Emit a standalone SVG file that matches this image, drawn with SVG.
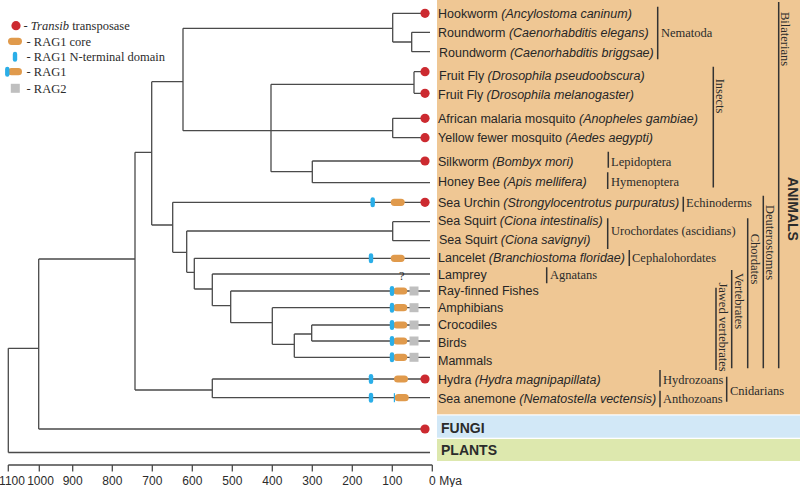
<svg xmlns="http://www.w3.org/2000/svg" width="800" height="487" viewBox="0 0 800 487">
<style>
.t{font-family:"Liberation Sans",Arial,sans-serif;font-size:12.5px;fill:#262626}
.i{font-style:italic}
.s{font-family:"Liberation Serif","Times New Roman",serif;font-size:12.5px;fill:#2b2b2b}
.b{font-family:"Liberation Sans",Arial,sans-serif;font-size:14px;font-weight:bold;fill:#2b2b2b}
.ax{font-family:"Liberation Sans Narrow","Liberation Sans",Arial,sans-serif;font-size:12px;fill:#2b2b2b;text-anchor:middle}
.ln{stroke:#4a4a4a;stroke-width:1.3;fill:none}
.bar{stroke:#333;stroke-width:1.5;fill:none}
.dot{fill:#cc2a30}
.core{fill:#e09a4c}
.nt{fill:#2aaee8}
.r2{fill:#bfbfbf}
</style>
<defs>
<circle id="dot" class="dot" r="4.6"/>
<rect id="core" class="core" x="-7" y="-3.6" width="14" height="7.2" rx="3.6"/>
<rect id="nt" class="nt" x="-2.2" y="-5" width="4.4" height="10" rx="2.2"/>
<rect id="r2" class="r2" x="-4.5" y="-4.5" width="9" height="9"/>
</defs>

<!-- background panels -->
<rect x="437" y="0" width="363" height="414.3" fill="#efc794"/>
<rect x="437" y="415.5" width="363" height="22.2" fill="#d2e8f7"/>
<rect x="437" y="439" width="363" height="22" fill="#dde8ae"/>

<!-- legend -->
<g id="legend">
<use href="#dot" x="16" y="25.7"/>
<text class="s" x="23.5" y="30">- <tspan font-style="italic">Transib</tspan> transposase</text>
<use href="#core" x="15" y="41.3"/>
<text class="s" x="26.5" y="45.5">- RAG1 core</text>
<use href="#nt" x="15" y="56.7"/>
<text class="s" x="26.5" y="61">- RAG1 N-terminal domain</text>
<use href="#core" x="15" y="71.7"/>
<use href="#nt" x="7.3" y="71.7"/>
<text class="s" x="26.5" y="76">- RAG1</text>
<use href="#r2" x="15.3" y="88.3"/>
<text class="s" x="26.5" y="92.5">- RAG2</text>
</g>

<!-- tree connectors -->
<g id="connectors" class="ln">
<path d="M392.7 13.3H425 M392.7 13.3V42 M392.7 42H411.7 M411.7 32.3V51.7 M411.7 32.3H430 M411.7 51.7H430"/>
<path d="M183 28.3V130.7 M183 28.3H392.7 M183 130.7H392.7"/>
<path d="M414 71.7V93.3 M414 71.7H425 M414 93.3H425 M271 84.3H414"/>
<path d="M392.7 118.3V137.7 M392.7 118.3H425 M392.7 137.7H425"/>
<path d="M271 84.3V171.7 M271 171.7H312.3 M312.3 161V182.7 M312.3 161H425 M312.3 182.7H430"/>
<path d="M151.7 81.7V225 M151.7 81.7H183 M151.7 225H172.7"/>
<path d="M172.7 202.3V252.3 M172.7 202.3H425 M172.7 252.3H186.7"/>
<path d="M186.7 231V272.3 M186.7 231H392.7 M392.7 221.7V240.7 M392.7 221.7H430 M392.7 240.7H430"/>
<path d="M186.7 272.3H194.3 M194.3 258.3V289 M194.3 258.3H430"/>
<path d="M194.3 289H212.3 M212.3 274V305.7 M212.3 274H430"/>
<path d="M212.3 305.7H230.7 M230.7 291V322.7 M230.7 291H430"/>
<path d="M230.7 322.7H272.3 M272.3 307.7V344.3 M272.3 307.7H430"/>
<path d="M272.3 344.3H294.3 M294.3 334V357.3 M294.3 357.3H430"/>
<path d="M294.3 334H311.7 M311.7 325V341 M311.7 325H430 M311.7 341H430"/>
<path d="M135 390H212.3 M212.3 379V397.7 M212.3 379H425 M212.3 397.7H430"/>
<path d="M135 152.3V390 M135 152.3H151.7"/>
<path d="M38.7 259V429 M38.7 259H135 M38.7 429H425"/>
<path d="M8.3 348.3V452.5 M8.3 348.3H38.7 M8.3 452.5H430"/>
</g>

<!-- domain icons -->
<g id="icons">
<use href="#dot" x="425" y="13.3"/>
<use href="#dot" x="425" y="71.7"/>
<use href="#dot" x="425" y="93.3"/>
<use href="#dot" x="425" y="118.3"/>
<use href="#dot" x="425" y="137.7"/>
<use href="#dot" x="425" y="161"/>
<use href="#nt" x="372.7" y="202.3"/>
<use href="#core" x="397.7" y="202.3"/>
<use href="#dot" x="425" y="202.3"/>
<use href="#nt" x="371" y="258.3"/>
<use href="#core" x="397.7" y="258.3"/>
<text class="s" x="401.7" y="279.5" text-anchor="middle">?</text>
<use href="#core" x="400.3" y="291"/><use href="#nt" x="392" y="291"/><use href="#r2" x="414" y="291"/>
<use href="#core" x="400.3" y="307.7"/><use href="#nt" x="392" y="307.7"/><use href="#r2" x="414" y="307.7"/>
<use href="#core" x="400.3" y="325"/><use href="#nt" x="392" y="325"/><use href="#r2" x="414" y="325"/>
<use href="#core" x="400.3" y="341"/><use href="#nt" x="392" y="341"/><use href="#r2" x="414" y="341"/>
<use href="#core" x="400.3" y="357.3"/><use href="#nt" x="392" y="357.3"/><use href="#r2" x="414" y="357.3"/>
<use href="#nt" x="371" y="379"/>
<use href="#core" x="401" y="379"/>
<use href="#dot" x="425" y="379"/>
<use href="#nt" x="371" y="397.7"/>
<use href="#core" x="401.7" y="397.7"/>
<rect x="393.8" y="393.2" width="1.2" height="9" fill="#2aaee8"/>
<use href="#dot" x="425" y="429"/>
</g>

<!-- leaf labels -->
<g id="leaves">
<text class="t" x="438" y="17.8">Hookworm <tspan class="i">(Ancylostoma caninum)</tspan></text>
<text class="t" x="438" y="36.8">Roundworm <tspan class="i">(Caenorhabditis elegans)</tspan></text>
<text class="t" x="439" y="56.8">Roundworm <tspan class="i">(Caenorhabditis briggsae)</tspan></text>
<text class="t" x="439" y="79.5">Fruit Fly <tspan class="i">(Drosophila pseudoobscura)</tspan></text>
<text class="t" x="438" y="98.8">Fruit Fly <tspan class="i">(Drosophila melanogaster)</tspan></text>
<text class="t" x="438" y="122.8">African malaria mosquito <tspan class="i">(Anopheles gambiae)</tspan></text>
<text class="t" x="438" y="142.2">Yellow fewer mosquito <tspan class="i">(Aedes aegypti)</tspan></text>
<text class="t" x="438" y="165.5">Silkworm <tspan class="i">(Bombyx mori)</tspan></text>
<text class="t" x="438" y="185.5">Honey Bee <tspan class="i">(Apis mellifera)</tspan></text>
<text class="t" x="438" y="206.8">Sea Urchin <tspan class="i">(Strongylocentrotus purpuratus)</tspan></text>
<text class="t" x="438" y="224.5">Sea Squirt <tspan class="i">(Ciona intestinalis)</tspan></text>
<text class="t" x="439" y="243.8">Sea Squirt <tspan class="i">(Ciona savignyi)</tspan></text>
<text class="t" x="438" y="262.2">Lancelet <tspan class="i">(Branchiostoma floridae)</tspan></text>
<text class="t" x="438" y="278.8">Lamprey</text>
<text class="t" x="438" y="294.5">Ray-finned Fishes</text>
<text class="t" x="438" y="311.8">Amphibians</text>
<text class="t" x="438" y="329.2">Crocodiles</text>
<text class="t" x="438" y="346.5">Birds</text>
<text class="t" x="438" y="364.5">Mammals</text>
<text class="t" x="438" y="383.8">Hydra <tspan class="i">(Hydra magnipapillata)</tspan></text>
<text class="t" x="438" y="403.2">Sea anemone <tspan class="i">(Nematostella vectensis)</tspan></text>
<text class="b" x="441" y="433.3">FUNGI</text>
<text class="b" x="441" y="455">PLANTS</text>
</g>

<!-- group labels -->
<g id="groups">
<path class="bar" d="M657.7 6.7V59.3 M713.3 66.7V187.5 M608.3 151.7V167.7 M607.7 172.3V189 M778.7 2V368.3 M683.3 196.7V211.7 M763.3 195.7V368.3 M607.7 218.3V249 M747.7 218.3V368.3 M629.3 250V266 M546.7 267.3V283.3 M731.7 270V368.3 M716 287.7V370 M660 370V386.7 M660 390.7V407.3 M726.7 376.7V401.7"/>
<text class="s" x="661" y="36.8">Nematoda</text>
<text class="s" x="611" y="165.5">Lepidoptera</text>
<text class="s" x="611" y="185.5">Hymenoptera</text>
<text class="s" x="686" y="206.8">Echinoderms</text>
<text class="s" x="611" y="234.5">Urochordates (ascidians)</text>
<text class="s" x="632" y="262.2">Cephalohordates</text>
<text class="s" x="550" y="278.8">Agnatans</text>
<text class="s" x="663" y="383.8">Hydrozoans</text>
<text class="s" x="663" y="403.2">Anthozoans</text>
<text class="s" x="730" y="394.5">Cnidarians</text>
<text class="s" text-anchor="middle" transform="translate(715.5 96) rotate(90)">Insects</text>
<text class="s" text-anchor="middle" transform="translate(781 39) rotate(90)">Bilaterians</text>
<text class="b" text-anchor="middle" transform="translate(787.5 209) rotate(90)">ANIMALS</text>
<text class="s" text-anchor="middle" transform="translate(766 242.5) rotate(90)">Deuterostomes</text>
<text class="s" text-anchor="middle" transform="translate(750.5 259) rotate(90)">Chordates</text>
<text class="s" text-anchor="middle" transform="translate(734.5 301) rotate(90)">Vertebrates</text>
<text class="s" text-anchor="middle" transform="translate(718.5 327) rotate(90)">Jawed vertebrates</text>
</g>

<!-- time axis -->
<g id="axis">
<path class="ln" d="M8.3 465H432.3 M8.3 465V471.5 M39.3 465V471.5 M72.7 465V471.5 M112.3 465V471.5 M152.3 465V471.5 M192.3 465V471.5 M232.3 465V471.5 M272.3 465V471.5 M312.3 465V471.5 M352.3 465V471.5 M392.3 465V471.5 M432.3 465V471.5"/>
<text class="ax" x="12" y="484.5">1100</text>
<text class="ax" x="40.5" y="484.5">1000</text>
<text class="ax" x="72.7" y="484.5">900</text>
<text class="ax" x="112.3" y="484.5">800</text>
<text class="ax" x="152.3" y="484.5">700</text>
<text class="ax" x="192.3" y="484.5">600</text>
<text class="ax" x="232.3" y="484.5">500</text>
<text class="ax" x="272.3" y="484.5">400</text>
<text class="ax" x="312.3" y="484.5">300</text>
<text class="ax" x="352.3" y="484.5">200</text>
<text class="ax" x="392.3" y="484.5">100</text>
<text class="ax" x="432.3" y="484.5">0</text>
<text class="ax" x="450.5" y="484.5">Mya</text>
</g>
</svg>
